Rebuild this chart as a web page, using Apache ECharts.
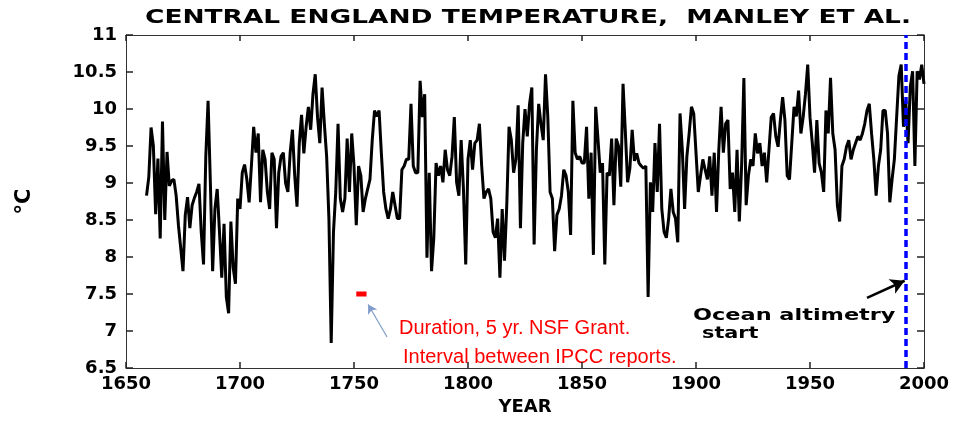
<!DOCTYPE html>
<html lang="en">
  <head>
    <meta charset="UTF-8" />
    <title>Central England Temperature</title>
    <style>
      * {
        padding: 0;
        margin: 0;
      }
      html,
      body {
        width: 961px;
        height: 421px;
        background: #fff;
      }
      #main {
        width: 961px;
        height: 421px;
      }
    </style>
  </head>
  <body>
    <div id="main"></div>
    <script src="https://cdn.jsdelivr.net/npm/echarts/dist/echarts.min.js"></script>
    <script>
      // annual mean temperature, degC (1659 .. 2000)
      var firstYear = 1659;
      var cetAnnual = [
        8.83,
        9.08, 9.75, 9.5, 8.58, 9.33, 8.25, 9.83, 8.5, 9.42, 8.96,
        9.03, 9.05, 8.83, 8.43, 8.12, 7.81, 8.57, 8.81, 8.39, 8.7,
        8.8, 8.88, 8.99, 8.34, 7.9, 9.36, 10.11, 9.0, 7.81, 8.65,
        8.92, 8.34, 7.72, 8.45, 7.46, 7.24, 8.48, 7.86, 7.64, 8.79,
        8.65, 9.14, 9.25, 9.05, 8.74, 9.23, 9.76, 9.41, 9.67, 8.74,
        9.45, 9.32, 8.88, 8.65, 9.41, 9.32, 8.39, 9.14, 9.36, 9.41,
        9.0, 8.88, 9.41, 9.72, 9.1, 8.68, 9.54, 9.92, 9.4, 9.76,
        10.03, 9.72, 10.2, 10.47, 9.89, 9.54, 10.29, 9.8, 9.36, 8.52,
        6.84, 8.34, 8.88, 9.8, 8.79, 8.61, 8.79, 9.6, 8.88, 9.67,
        9.23, 8.43, 9.23, 9.1, 8.61, 8.79, 8.92, 9.05, 9.58, 9.98,
        9.9, 9.98, 9.4, 8.88, 8.65, 8.52, 8.65, 8.88, 8.7, 8.52,
        8.52, 9.18, 9.23, 9.32, 9.32, 10.07, 9.23, 9.14, 9.14, 10.38,
        9.89, 10.2, 7.99, 9.14, 7.81, 8.26, 9.27, 9.1, 9.23, 9.01,
        9.45, 9.18, 9.1, 9.36, 9.89, 9.01, 8.83, 9.58, 8.92, 7.9,
        9.32, 9.58, 9.18, 9.54, 9.58, 9.8, 9.23, 8.79, 8.88, 8.92,
        8.79, 8.34, 8.26, 8.52, 7.72, 8.65, 7.95, 8.7, 9.76, 9.58,
        9.14, 9.32, 10.05, 8.39, 9.54, 10.0, 9.63, 10.07, 10.29, 8.17,
        9.45, 10.07, 9.8, 9.58, 10.47, 9.89, 8.88, 8.79, 8.08, 8.57,
        8.65, 8.83, 9.18, 9.1, 8.88, 8.3, 10.11, 9.41, 9.32, 9.36,
        9.27, 9.27, 9.76, 8.79, 9.41, 8.03, 10.03, 9.6, 9.14, 9.27,
        7.9, 9.14, 9.1, 9.6, 8.7, 9.6, 9.5, 8.95, 10.34, 9.7,
        9.01, 9.2, 9.72, 9.3, 9.4, 9.27, 9.23, 9.2, 9.23, 7.46,
        9.01, 8.61, 9.54, 8.88, 9.8, 8.65, 8.34, 8.26, 8.52, 8.92,
        8.61, 8.52, 8.2, 9.94, 9.45, 8.65, 9.36, 9.67, 10.03, 9.94,
        9.41, 8.88, 9.1, 9.32, 9.18, 9.05, 9.36, 8.83, 9.41, 8.61,
        9.45, 10.03, 9.41, 9.8, 9.85, 8.92, 9.14, 8.61, 9.45, 8.48,
        9.23, 10.42, 8.7, 9.1, 9.32, 9.23, 9.67, 9.4, 9.54, 9.23,
        9.41, 9.01, 9.45, 9.89, 9.94, 9.63, 9.49, 9.85, 10.16, 9.85,
        9.1, 9.05, 9.54, 10.03, 9.9, 10.25, 9.67, 9.89, 10.2, 10.6,
        9.89, 9.54, 9.14, 9.85, 9.27, 9.14, 8.88, 9.98, 9.67, 10.42,
        9.67, 9.45, 8.7, 8.48, 9.23, 9.32, 9.49, 9.58, 9.32, 9.45,
        9.54, 9.63, 9.58, 9.67, 9.8, 9.98, 10.07, 9.67, 9.32, 8.83,
        9.23, 9.45, 9.98, 9.98, 9.67, 8.74, 9.05, 9.32, 9.89, 10.45,
        10.6, 9.76, 10.11, 9.54, 10.3, 10.51, 9.23, 10.51, 10.4, 10.6,
        10.34
      ];
      // axis ticks
      var yearTicks = [1650, 1700, 1750, 1800, 1850, 1900, 1950, 2000];
      var tempTicks = [6.5, 7, 7.5, 8, 8.5, 9, 9.5, 10, 10.5, 11];
      // annotations
      var grantYears = [1751, 1755.5];
      var grantLevel = 7.5;
      var altimetryYear = 1992;

      var myChart = echarts.init(document.getElementById('main'));

      var lineData = cetAnnual.map(function(v, i) {
        return [firstYear + i, v];
      });

      var boldFont = '"DejaVu Sans", sans-serif';
      function tickStyle(len) {
        return {show: true, inside: true, length: len, lineStyle: {color: '#222', width: 1.5}};
      }
      var xBase = {
        type: 'value',
        min: yearTicks[0],
        max: yearTicks[yearTicks.length - 1],
        interval: 50,
        splitLine: {show: false},
        axisLine: {show: true, onZero: false, lineStyle: {color: '#333', width: 1}},
      };
      var yBase = {
        type: 'value',
        min: tempTicks[0],
        max: tempTicks[tempTicks.length - 1],
        interval: 0.5,
        splitLine: {show: false},
        axisLine: {show: true, onZero: false, lineStyle: {color: '#333', width: 1}},
      };

      var option = {
        animation: false,
        grid: {left: 126, right: 37, top: 35, bottom: 47},
        xAxis: [
          Object.assign({}, xBase, {
            position: 'bottom',
            name: 'YEAR',
            nameLocation: 'middle',
            nameGap: 25,
            nameTextStyle: {fontFamily: boldFont, fontWeight: 'bold', fontSize: 18, color: '#000'},
            axisTick: tickStyle(6),
            axisLabel: {
              margin: 7,
              fontFamily: boldFont,
              fontWeight: 'bold',
              fontSize: 18,
              color: '#000',
              formatter: function(v) {
                return String(v);
              },
            },
          }),
          Object.assign({}, xBase, {position: 'top', axisTick: tickStyle(6), axisLabel: {show: false}}),
        ],
        yAxis: [
          Object.assign({}, yBase, {
            position: 'left',
            name: '°C',
            nameLocation: 'middle',
            nameRotate: 90,
            nameGap: 91,
            nameTextStyle: {fontFamily: boldFont, fontWeight: 'bold', fontSize: 21, color: '#000'},
            axisTick: tickStyle(7),
            axisLabel: {margin: 9, fontFamily: boldFont, fontWeight: 'bold', fontSize: 18, color: '#000'},
          }),
          Object.assign({}, yBase, {position: 'right', axisTick: tickStyle(7), axisLabel: {show: false}}),
        ],
        graphic: [
          {
            type: 'text',
            x: 145,
            y: 18,
            scaleX: 1.39,
            style: {
              text: 'CENTRAL ENGLAND TEMPERATURE,  MANLEY ET AL.',
              font: 'bold 19px "DejaVu Sans"',
              fill: '#000',
              verticalAlign: 'middle',
            },
          },
          {
            type: 'text',
            x: 693,
            y: 316,
            scaleX: 1.4,
            style: {
              text: 'Ocean altimetry',
              font: 'bold 16px "DejaVu Sans"',
              fill: '#000',
              verticalAlign: 'middle',
            },
          },
          {
            type: 'text',
            x: 702,
            y: 334,
            scaleX: 1.3,
            style: {
              text: 'start',
              font: 'bold 16px "DejaVu Sans"',
              fill: '#000',
              verticalAlign: 'middle',
            },
          },
          {
            type: 'text',
            x: 399,
            y: 328,
            style: {
              text: 'Duration, 5 yr. NSF Grant.',
              font: '20px "Liberation Sans"',
              fill: '#ff0000',
              verticalAlign: 'middle',
            },
          },
          {
            type: 'text',
            x: 403,
            y: 357,
            style: {
              text: 'Interval between IPCC reports.',
              font: '20px "Liberation Sans"',
              fill: '#ff0000',
              verticalAlign: 'middle',
            },
          },
        ],
        series: [
          {
            name: 'CET',
            type: 'line',
            data: lineData,
            showSymbol: false,
            lineStyle: {color: '#000', width: 3},
            z: 2,
          },
          {
            name: 'grant',
            type: 'line',
            data: grantYears.map(function(y) {
              return [y, grantLevel];
            }),
            showSymbol: false,
            lineStyle: {color: '#ff0000', width: 5, cap: 'butt'},
            markLine: {
              silent: true,
              symbol: ['none', 'arrow'],
              symbolSize: [8, 9],
              label: {show: false},
              lineStyle: {color: '#7f9ccb', width: 1.2, type: 'solid'},
              data: [[{coord: [1764.5, 6.92]}, {coord: [1756.2, 7.36]}]],
            },
          },
          {
            name: 'altimetry',
            type: 'line',
            data: [],
            z: 5,
            markLine: {
              silent: true,
              symbol: ['none', 'none'],
              label: {show: false},
              lineStyle: {color: '#0000ff', width: 3.5, type: [7, 4]},
              data: [{xAxis: altimetryYear}],
            },
          },
          {
            name: 'arrow',
            type: 'line',
            data: [],
            z: 5,
            markLine: {
              silent: true,
              symbol: ['none', 'arrow'],
              symbolSize: [12, 14],
              label: {show: false},
              lineStyle: {color: '#000', width: 2.5, type: 'solid'},
              data: [[{coord: [1975, 7.45]}, {coord: [1991.5, 7.68]}]],
            },
          },
        ],
      };
      myChart.setOption(option);
    </script>
  </body>
</html>
